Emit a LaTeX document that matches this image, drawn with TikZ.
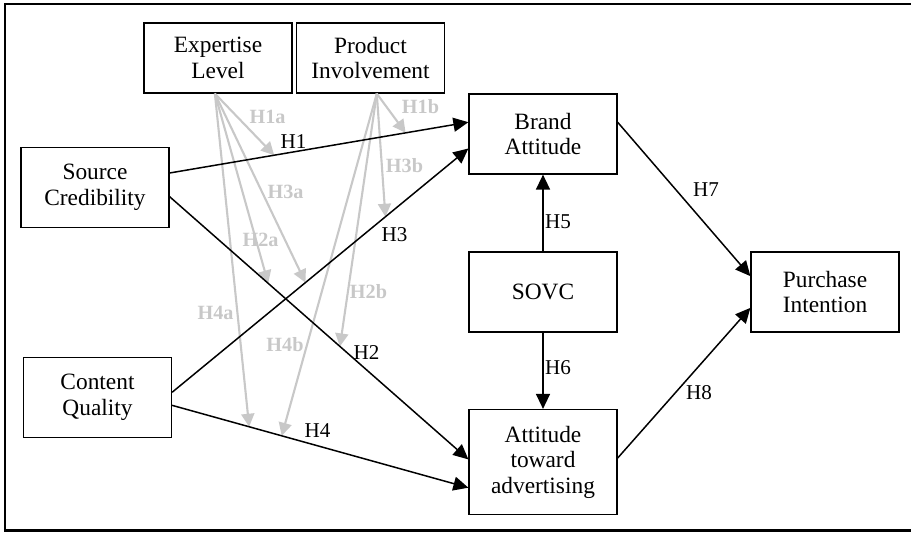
\documentclass[tikz,border=0pt]{standalone}
\usepackage{fontspec}
\setmainfont{Liberation Serif}
\usetikzlibrary{arrows.meta}
\definecolor{modgray}{RGB}{200,200,200}
\tikzset{
  box/.style={draw, line width=0.7pt, minimum width=2.96cm, minimum height=1.6cm,
    align=center, inner sep=1pt, font=\fontsize{13.3}{14.5}\selectfont},
  link/.style={line width=0.85pt, -{Triangle[length=0.3cm,width=0.28cm]}},
  modlink/.style={modgray, line width=1.2pt, -{Triangle[length=0.26cm,width=0.26cm]}},
  hyp/.style={font=\fontsize{12}{14}\selectfont},
  modhyp/.style={text=modgray, font=\fontsize{11.5}{13}\selectfont\bfseries},
}
\begin{document}
\begin{tikzpicture}
    \useasboundingbox (0,0) rectangle (18.22,10.64);
    \draw [line width=1.4pt] (18.22,10.56) -- (0.1,10.56) -- (0.1,0.03) -- (18.22,0.03);

    \node [box, minimum height=1.4cm] (exp)   at (4.36,9.48)  {Expertise\\Level};
    \node [box, minimum height=1.4cm] (inv)   at (7.41,9.48)  {Product\\Involvement};
    \node [box] (cred)  at (1.90,6.89)  {Source\\Credibility};
    \node [box] (qual)  at (1.95,2.69)  {Content\\Quality};
    \node [box] (brand) at (10.86,7.96) {Brand\\Attitude};
    \node [box] (sovc)  at (10.86,4.80) {SOVC};
    \node [box, minimum height=2.1cm] (adv) at (10.86,1.40) {Attitude\\toward\\advertising};
    \node [box] (purch) at (16.50,4.80) {Purchase\\Intention};

    % main paths, with points where the moderators meet them
    \path (cred.11) -- coordinate[pos=0.35] (m1a) coordinate[pos=0.79] (m1b) (brand.171);
    \path (cred.-7) -- coordinate[pos=0.33] (m2a) coordinate[pos=0.57] (m2b) (adv.178);
    \path (qual.4)  -- coordinate[pos=0.45] (m3a) coordinate[pos=0.72] (m3b) (brand.191);
    \path (qual.-6) -- coordinate[pos=0.26] (m4a) coordinate[pos=0.37] (m4b) (adv.199);

    % moderators
    \draw [modlink] (exp.-95) -- (m1a);
    \draw [modlink] (exp.-95) -- (m2a);
    \draw [modlink] (exp.-95) -- (m3a);
    \draw [modlink] (exp.-95) -- (m4a);
    \draw [modlink] (inv.-80) -- (m1b);
    \draw [modlink] (inv.-80) -- (m2b);
    \draw [modlink] (inv.-80) -- (m3b);
    \draw [modlink] (inv.-80) -- (m4b);

    \draw [link] (cred.11) -- (brand.171);
    \draw [link] (cred.-7) -- (adv.178);
    \draw [link] (qual.4)  -- (brand.191);
    \draw [link] (qual.-6) -- (adv.199);
    \draw [link] (sovc.north) -- (brand.south);
    \draw [link] (sovc.south) -- (adv.north);
    \draw [link] (brand.9) -- (purch.168);
    \draw [link] (adv.3)   -- (purch.192);

    \node [hyp] (h1) at (5.87,7.80)  {H1};
    \node [hyp] (h2) at (7.33,3.58)  {H2};
    \node [hyp] (h3) at (7.89,5.94)  {H3};
    \node [hyp] (h4) at (6.35,2.02)  {H4};
    \node [hyp] (h5) at (11.16,6.20) {H5};
    \node [hyp] (h6) at (11.16,3.28) {H6};
    \node [hyp] (h7) at (14.12,6.84) {H7};
    \node [hyp] (h8) at (13.98,2.78) {H8};

    \node [modhyp] (h1a) at (5.35,8.30) {H1a};
    \node [modhyp] (h2a) at (5.21,5.84) {H2a};
    \node [modhyp] (h3a) at (5.71,6.80) {H3a};
    \node [modhyp] (h4a) at (4.31,4.38) {H4a};
    \node [modhyp] (h1b) at (8.41,8.50) {H1b};
    \node [modhyp] (h2b) at (7.37,4.80) {H2b};
    \node [modhyp] (h3b) at (8.09,7.32) {H3b};
    \node [modhyp] (h4b) at (5.70,3.74) {H4b};
\end{tikzpicture}
\end{document}
